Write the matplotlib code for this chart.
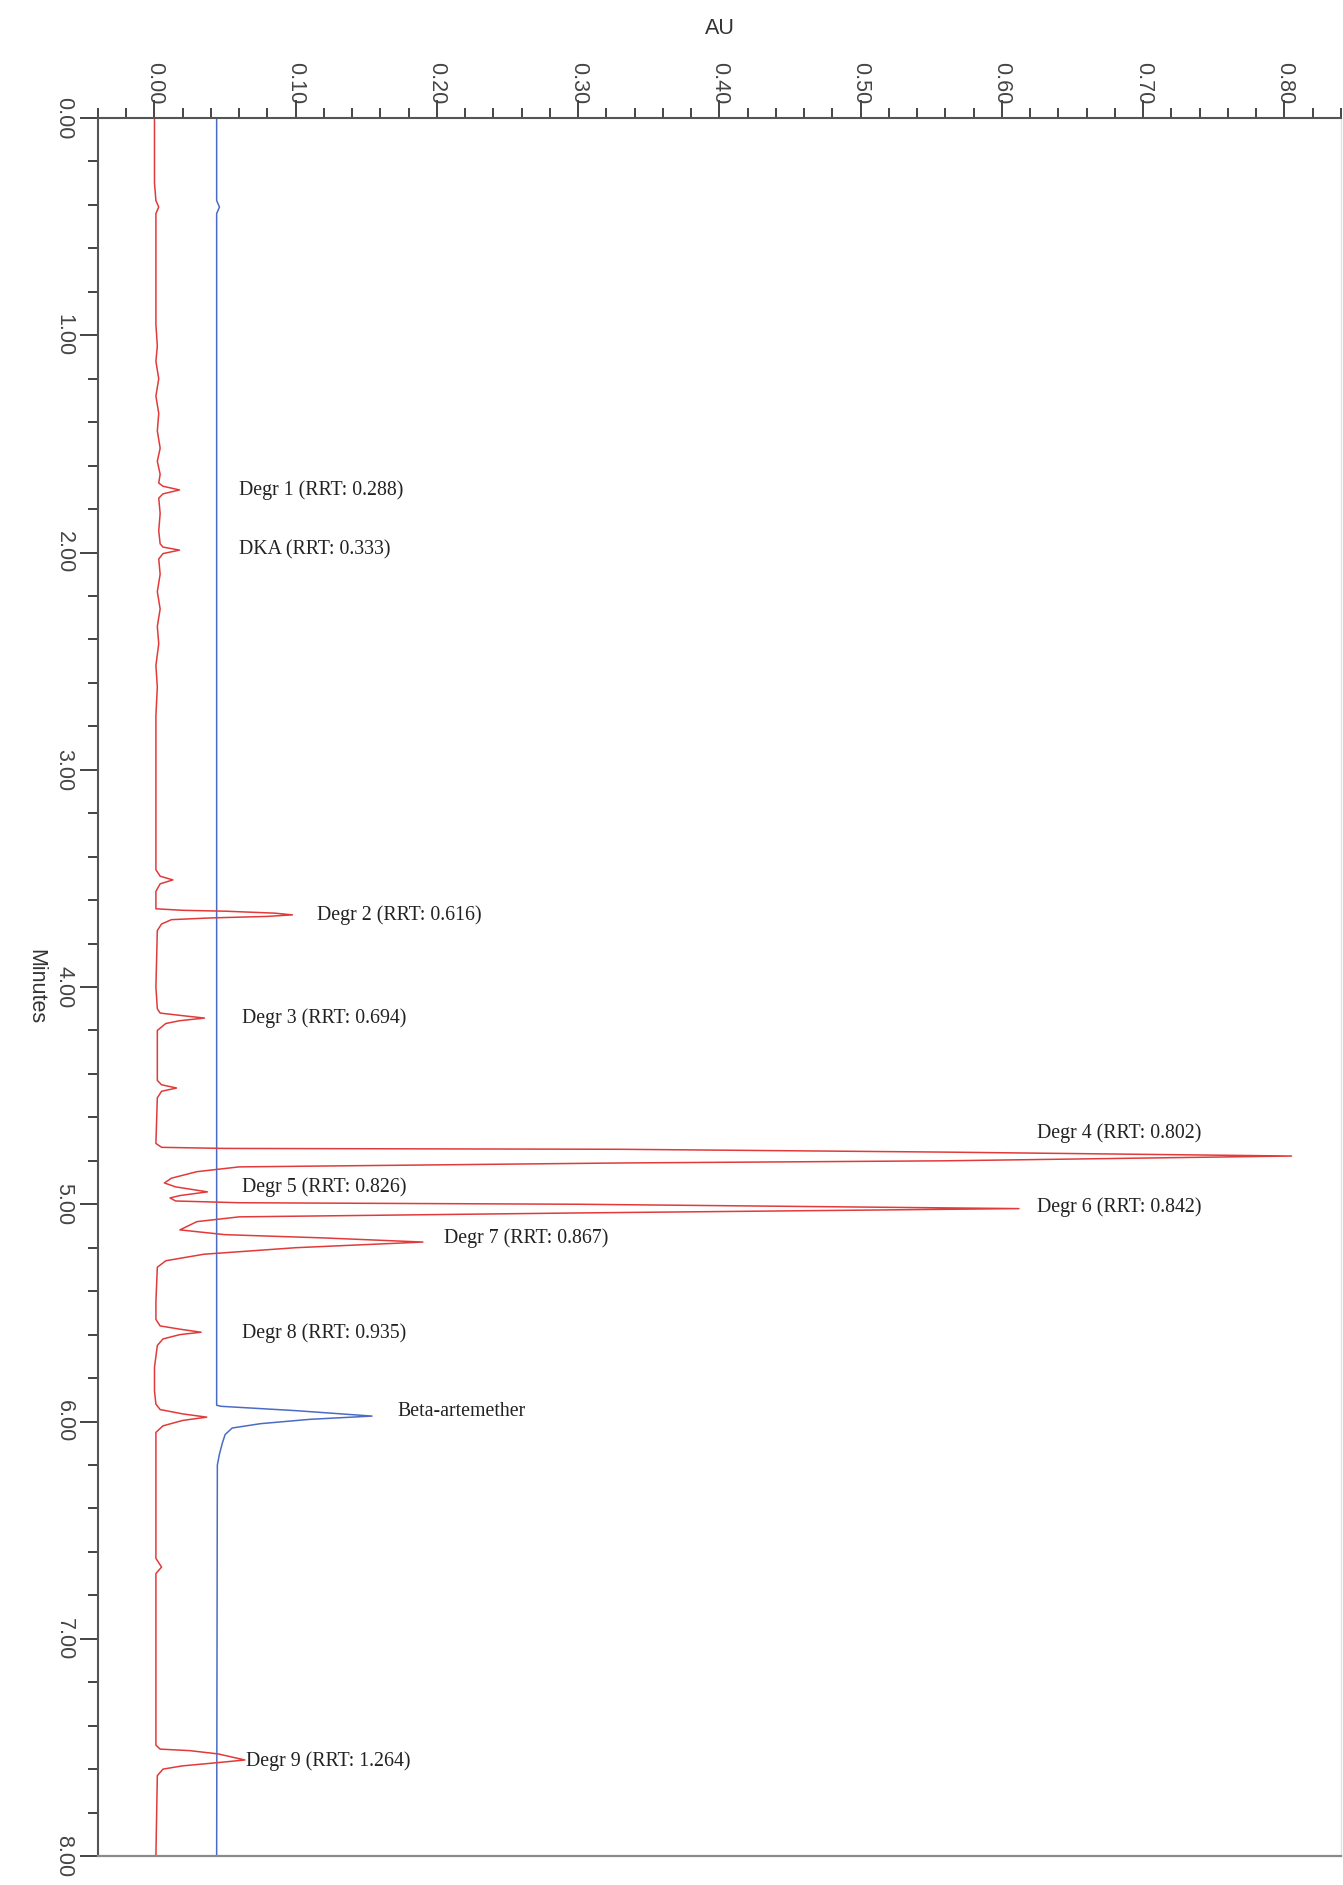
import matplotlib.pyplot as plt
from matplotlib.ticker import MultipleLocator, FormatStrFormatter

# red trace (stressed sample): time in minutes, absorbance in AU
red_t = [0.00, 0.30, 0.38, 0.41, 0.44, 0.70, 0.95, 1.05, 1.12, 1.20, 1.28, 1.36, 1.44,
         1.52, 1.58, 1.64, 1.68, 1.695, 1.712, 1.73, 1.75, 1.82, 1.90, 1.96, 1.975,
         1.989, 2.005, 2.03, 2.10, 2.18, 2.26, 2.34, 2.42, 2.52, 2.62, 2.75, 3.00,
         3.30, 3.46, 3.49, 3.507, 3.525, 3.56, 3.64, 3.647, 3.651, 3.660, 3.668,
         3.675, 3.682, 3.690, 3.71, 3.74, 4.00, 4.10, 4.12, 4.132, 4.143, 4.155,
         4.168, 4.20, 4.43, 4.45, 4.465, 4.48, 4.51, 4.72, 4.738, 4.743, 4.747,
         4.76, 4.778, 4.80, 4.81, 4.828, 4.85, 4.88, 4.902, 4.92, 4.943, 4.96,
         4.971, 4.985, 4.993, 5.00, 5.02, 5.04, 5.058, 5.08, 5.118, 5.14, 5.155,
         5.174, 5.20, 5.23, 5.26, 5.29, 5.45, 5.53, 5.56, 5.575, 5.589, 5.60,
         5.62, 5.65, 5.75, 5.86, 5.92, 5.945, 5.965, 5.98, 5.995, 6.02, 6.05,
         6.63, 6.67, 6.70, 7.49, 7.508, 7.515, 7.53, 7.558, 7.57, 7.585, 7.60,
         7.63, 8.00]
red_au = [0.000, 0.000, 0.001, 0.003, 0.001, 0.001, 0.001, 0.002, 0.001, 0.003, 0.001,
          0.003, 0.002, 0.004, 0.002, 0.004, 0.003, 0.006, 0.0177, 0.006, 0.003,
          0.004, 0.003, 0.004, 0.006, 0.0177, 0.006, 0.003, 0.004, 0.002, 0.004,
          0.002, 0.003, 0.001, 0.002, 0.001, 0.001, 0.001, 0.001, 0.004, 0.013,
          0.004, 0.001, 0.001, 0.020, 0.050, 0.085, 0.0977, 0.080, 0.040, 0.012,
          0.005, 0.002, 0.001, 0.002, 0.004, 0.020, 0.0354, 0.018, 0.008, 0.002,
          0.002, 0.005, 0.0156, 0.005, 0.002, 0.001, 0.005, 0.050, 0.330, 0.560,
          0.805, 0.560, 0.330, 0.060, 0.030, 0.012, 0.007, 0.015, 0.0375, 0.018,
          0.011, 0.015, 0.060, 0.300, 0.612, 0.300, 0.060, 0.030, 0.018, 0.050,
          0.120, 0.190, 0.100, 0.035, 0.008, 0.002, 0.001, 0.001, 0.004, 0.018,
          0.033, 0.018, 0.006, 0.002, 0.000, 0.000, 0.001, 0.004, 0.020, 0.037,
          0.020, 0.006, 0.001, 0.001, 0.005, 0.001, 0.001, 0.004, 0.025, 0.045,
          0.064, 0.045, 0.020, 0.006, 0.002, 0.001]

# blue trace (reference standard)
blue_t = [0.00, 0.38, 0.41, 0.44, 5.925, 5.930, 5.933, 5.95, 5.975, 5.99, 6.01,
          6.03, 6.06, 6.10, 6.15, 6.20, 8.00]
blue_au = [0.044, 0.044, 0.046, 0.044, 0.044, 0.047, 0.055, 0.100, 0.154, 0.110,
           0.075, 0.055, 0.050, 0.048, 0.046, 0.0445, 0.044]

# peak annotations
peak_names = ['Degr 1 (RRT: 0.288)', 'DKA (RRT: 0.333)', 'Degr 2 (RRT: 0.616)',
              'Degr 3 (RRT: 0.694)', 'Degr 4 (RRT: 0.802)', 'Degr 5 (RRT: 0.826)',
              'Degr 6 (RRT: 0.842)', 'Degr 7 (RRT: 0.867)', 'Degr 8 (RRT: 0.935)',
              'Beta-artemether', 'Degr 9 (RRT: 1.264)']
peak_t = [1.712, 1.989, 3.668, 4.142, 4.672, 4.921, 5.013, 5.155, 5.593, 5.956, 7.563]
peak_au = [0.060, 0.060, 0.115, 0.062, 0.625, 0.062, 0.625, 0.205, 0.062, 0.172, 0.065]

fig = plt.figure(figsize=(13.43, 18.85), dpi=100)
ax = fig.add_axes([0.07297, 0.01538, 0.92554, 0.92202])

ax.plot(blue_au, blue_t, color='#4a6cc4', lw=1.1)
ax.plot(red_au, red_t, color='#e23a3a', lw=1.1)

for name, t, au in zip(peak_names, peak_t, peak_au):
    ax.text(au, t, name, ha='left', va='center', fontsize=14.3,
            family='Liberation Serif', color='#222222')

ax.set_xlim(-0.04, 0.84)
ax.set_ylim(8.0, 0.0)

ax.xaxis.tick_top()
ax.xaxis.set_label_position('top')
ax.xaxis.set_minor_locator(MultipleLocator(0.02))
ax.xaxis.set_major_formatter(FormatStrFormatter('%.2f'))
ax.yaxis.set_major_locator(MultipleLocator(1.0))
ax.yaxis.set_minor_locator(MultipleLocator(0.2))
ax.yaxis.set_major_formatter(FormatStrFormatter('%.2f'))

# x ticks sit across the top with rotated text
ax.set_xticks([i / 10 for i in range(9)])
ax.tick_params(axis='x', which='major', length=13, width=1.4, pad=-3,
               labelsize=15.5, labelrotation=-90, colors='#444444')
ax.tick_params(axis='x', which='minor', length=7, width=1.4, colors='#444444')
ax.tick_params(axis='y', which='major', length=13, width=1.4, pad=4,
               labelsize=15.5, labelrotation=-90, colors='#444444')
ax.tick_params(axis='y', which='minor', length=7, width=1.4, colors='#444444')
for lab in ax.get_xticklabels() + ax.get_yticklabels():
    lab.set_family('Liberation Sans')
for lab in ax.get_yticklabels():
    lab.set_va('center')

ax.set_xlabel('AU', fontsize=15.5, family='Liberation Sans', color='#333333', labelpad=20)
ax.set_ylabel('Minutes', fontsize=15.5, family='Liberation Sans', color='#333333',
              rotation=-90, ha='center', va='center')
ax.yaxis.set_label_coords(-0.05, 0.5)

ax.spines['top'].set_color('#555555')
ax.spines['left'].set_color('#555555')
ax.spines['top'].set_linewidth(1.5)
ax.spines['left'].set_linewidth(1.5)
ax.spines['bottom'].set_color('#8a8a8a')
ax.spines['bottom'].set_linewidth(1.6)
ax.spines['right'].set_color('#e2e2e2')
ax.spines['right'].set_linewidth(1.0)

fig.savefig('out.png', dpi=100)
